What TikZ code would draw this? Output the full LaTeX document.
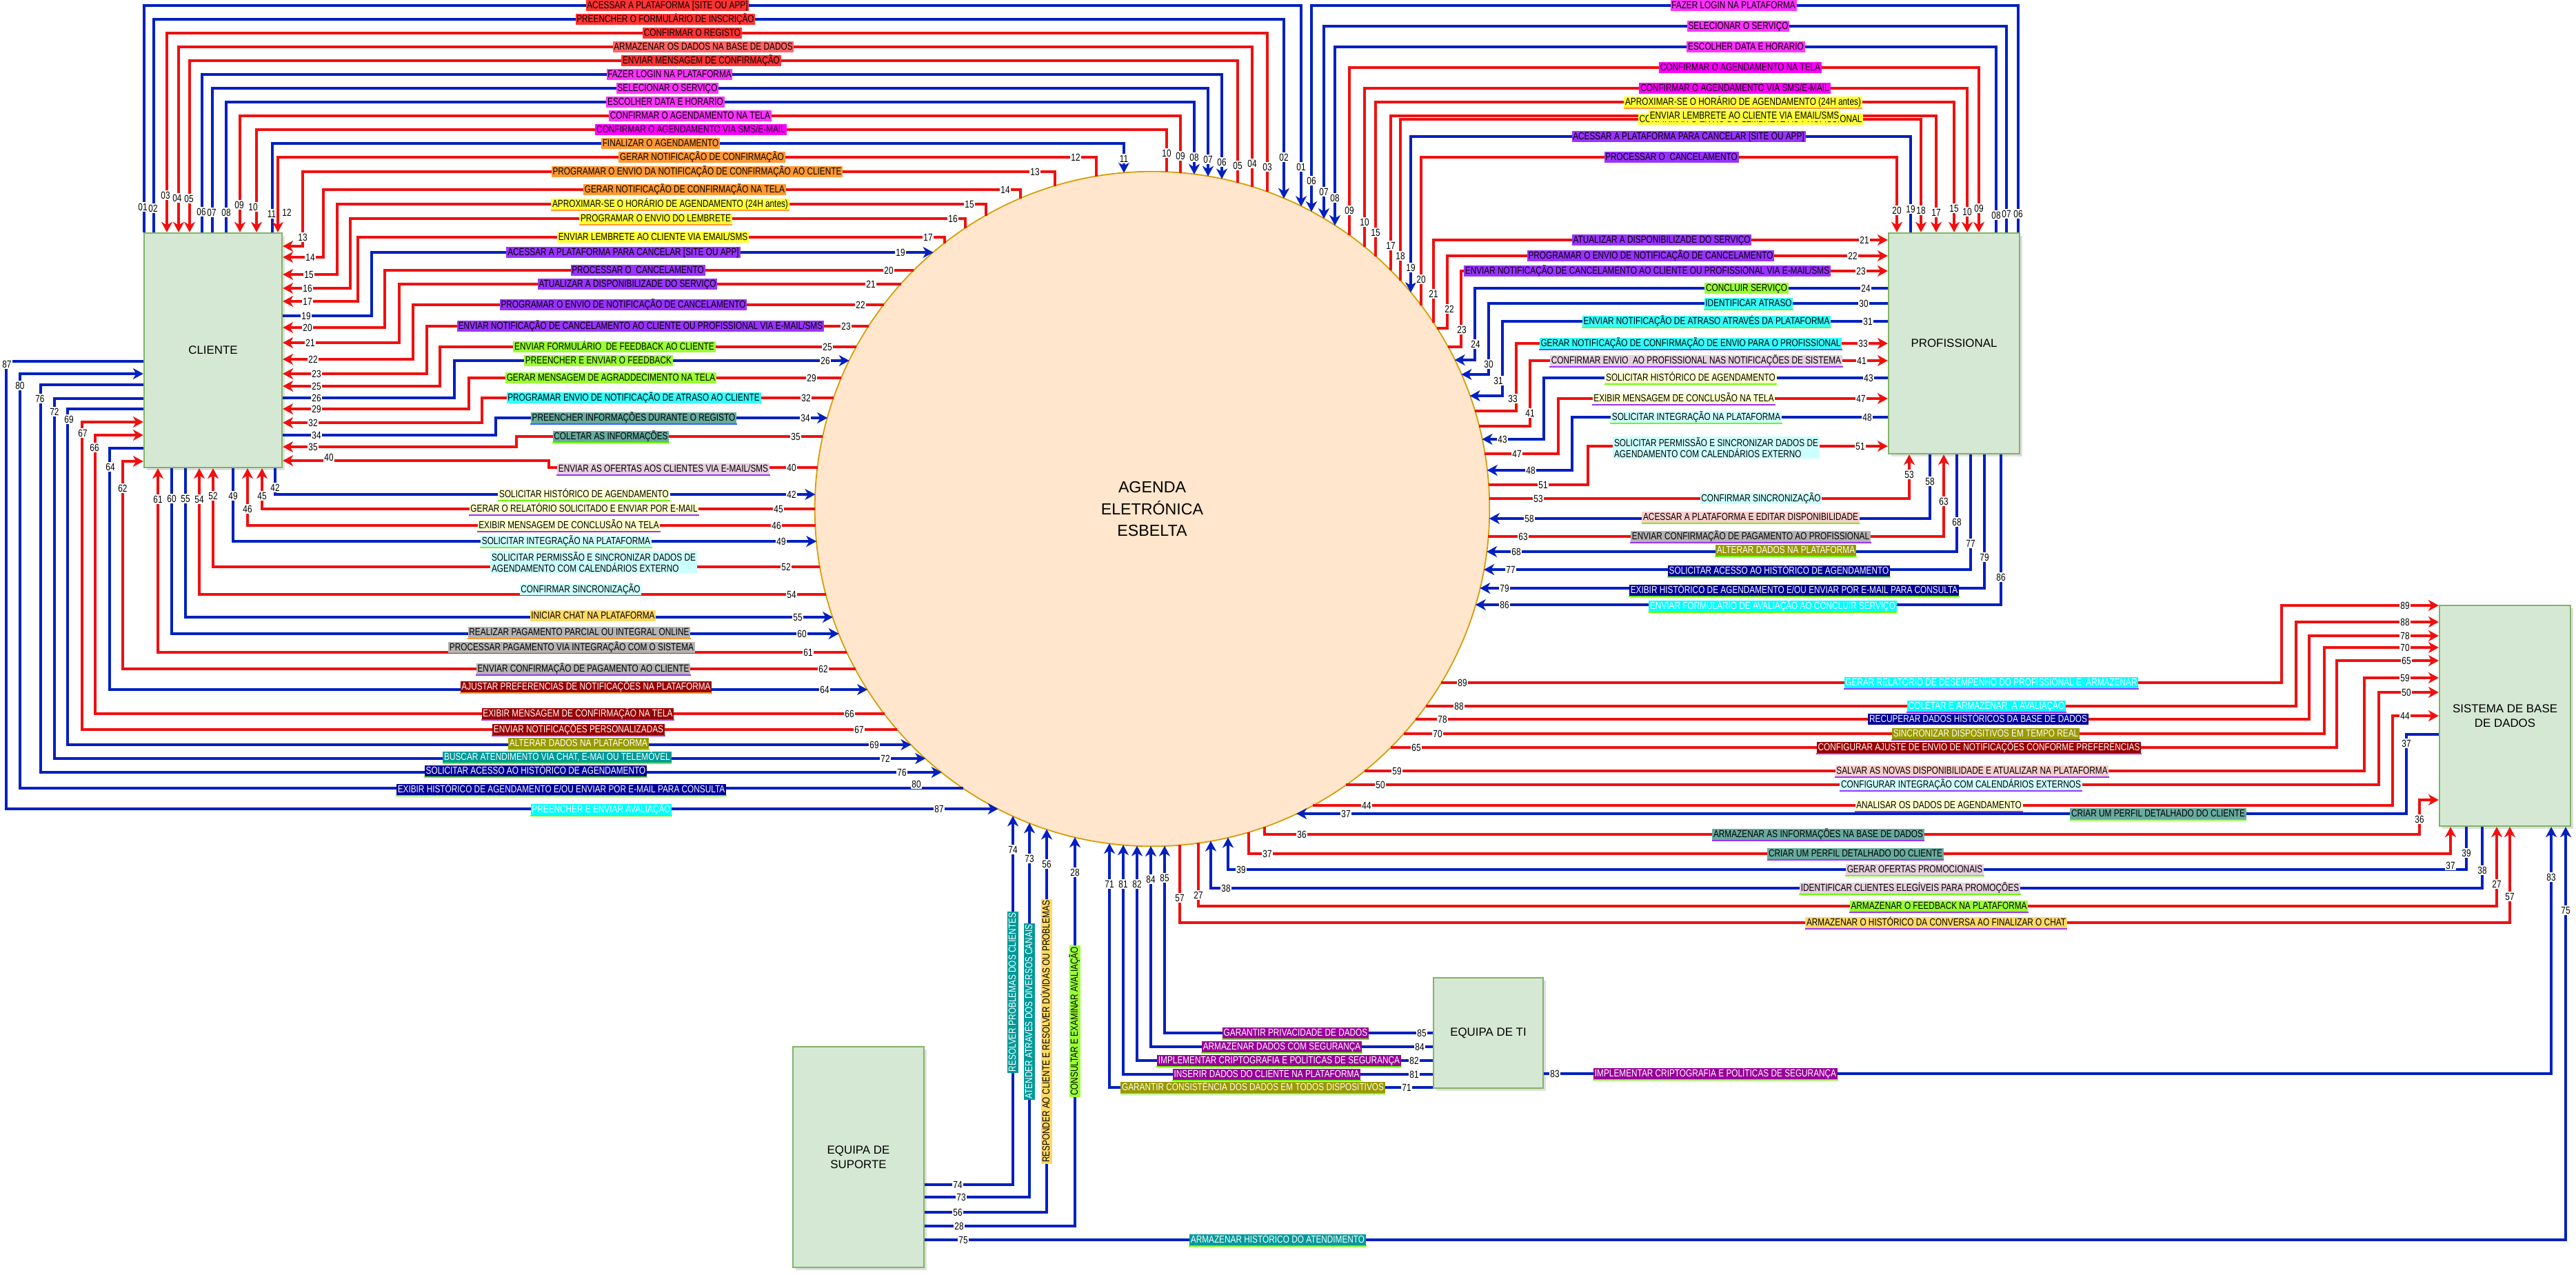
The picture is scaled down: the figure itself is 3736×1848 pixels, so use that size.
\documentclass[tikz,border=0pt]{standalone}
\usepackage{fontspec}
\setmainfont{Liberation Sans}
\newfontfamily\narrowfont[FakeStretch=0.8]{Liberation Sans}
\usetikzlibrary{arrows.meta,shadows}

\definecolor{flowred}{HTML}{F01010}
\definecolor{flowblue}{HTML}{0020C0}
\definecolor{entfill}{HTML}{D5E8D4}
\definecolor{entline}{HTML}{82B366}
\definecolor{procfill}{HTML}{FFE6CC}
\definecolor{procline}{HTML}{D79B00}
\definecolor{cRed}{HTML}{FF3333}
\definecolor{cRose}{HTML}{FF6666}
\definecolor{cMag}{HTML}{FF33FF}
\definecolor{cMagB}{HTML}{FF00FF}
\definecolor{cOra}{HTML}{FF9933}
\definecolor{cYel}{HTML}{FFFF33}
\definecolor{cPur}{HTML}{9933FF}
\definecolor{cGrn}{HTML}{99FF33}
\definecolor{cCya}{HTML}{33FFFF}
\definecolor{cTea}{HTML}{67AB9F}
\definecolor{cPnk}{HTML}{E6D0DE}
\definecolor{cLYe}{HTML}{FFFFCC}
\definecolor{cLCy}{HTML}{CCFFFF}
\definecolor{cGold}{HTML}{FFD966}
\definecolor{cGry}{HTML}{B3B3B3}
\definecolor{cDRed}{HTML}{990000}
\definecolor{cOli}{HTML}{999900}
\definecolor{cDTea}{HTML}{009999}
\definecolor{cNavy}{HTML}{000099}
\definecolor{cAqua}{HTML}{00FFFF}
\definecolor{cDPur}{HTML}{990099}
\definecolor{cSal}{HTML}{F8CECC}
\definecolor{uGrn}{HTML}{66FF00}
\definecolor{uPur}{HTML}{9933FF}
\definecolor{uOra}{HTML}{FF9933}
\definecolor{uBlu}{HTML}{3366FF}

% border points of the process circle (centre 1671,738, radius 489)
\newcommand\yT[1]{738-100*sqrt(23.912-((#1-1671)/100)^2)}
\newcommand\yB[1]{738+100*sqrt(23.912-((#1-1671)/100)^2)}
\newcommand\xL[1]{1671-100*sqrt(23.912-((#1-738)/100)^2)}
\newcommand\xR[1]{1671+100*sqrt(23.912-((#1-738)/100)^2)}
\newcommand\tg[3]{\node[num] (tg#3x#1) at (#1,#2) {#3};}

\tikzset{
  ent/.style={draw=entline, fill=entfill, line width=0.6pt, align=center,
    font=\fontsize{4.8}{5.8}\selectfont,
    drop shadow={opacity=0.25, shadow xshift=1.2pt, shadow yshift=-1.2pt}},
  proc/.style={circle, draw=procline, fill=procfill, line width=0.5pt,
    align=center, font=\fontsize{6.6}{9}\selectfont},
  tip/.style={-{Stealth[length=1.5mm,width=1.6mm,inset=0.45mm]}},
  rf/.style={draw=flowred, line width=0.9pt, tip},
  bf/.style={draw=flowblue, line width=0.9pt, tip},
  lab/.style={fill=#1, font=\narrowfont\fontsize{4.2}{4.8}\selectfont,
    inner xsep=0.5pt, inner ysep=0.4pt, text height=3.1pt, text depth=0.8pt},
  labw/.style={lab=#1, text=white},
  labii/.style={fill=#1, font=\narrowfont\fontsize{4.2}{4.4}\selectfont,
    align=left, inner sep=0.6pt},
  ul/.style={append after command={(\tikzlastnode.south west)
    edge[draw=#1, line width=0.6pt] (\tikzlastnode.south east)}},
  num/.style={fill=white, font=\narrowfont\fontsize{4.2}{4.8}\selectfont,
    inner sep=0.3pt, text height=3.1pt, text depth=0.2pt},
}

\begin{document}
\begin{tikzpicture}[x=0.01cm,y=-0.01cm]
\useasboundingbox (0,0) rectangle (3736,1848);

% entities and process
\node[proc, minimum size=9.78cm] (ag) at (1671,738) {AGENDA\\ELETRÓNICA\\ESBELTA};
\node[ent, minimum width=2cm, minimum height=3.4cm] (cli) at (309,508) {CLIENTE};
\node[ent, minimum width=1.9cm, minimum height=3.2cm] (prof) at (2834,498) {PROFISSIONAL};
\node[ent, minimum width=1.9cm, minimum height=3.2cm] (bd) at (3633,1038) {SISTEMA DE BASE\\DE DADOS};
\node[ent, minimum width=1.59cm, minimum height=1.6cm] (ti) at (2158.5,1498) {EQUIPA DE TI};
\node[ent, minimum width=1.9cm, minimum height=3.2cm] (sup) at (1245,1678) {EQUIPA DE\\SUPORTE};

% cliente - top
\draw[bf] (cli.north -| 209,0) |- (1887,8) -- (1887,{\yT{1887}});
\draw[bf] (cli.north -| 223,0) |- (1862,28) -- (1862,{\yT{1862}});
\draw[rf] (1838,{\yT{1838}}) |- (242,48) -- (cli.north -| 242,0);
\draw[rf] (1816,{\yT{1816}}) |- (259,68) -- (cli.north -| 259,0);
\draw[rf] (1795,{\yT{1795}}) |- (275,88) -- (cli.north -| 275,0);
\draw[bf] (cli.north -| 293,0) |- (1772,108) -- (1772,{\yT{1772}});
\draw[bf] (cli.north -| 308,0) |- (1752,128) -- (1752,{\yT{1752}});
\draw[bf] (cli.north -| 328,0) |- (1732,148) -- (1732,{\yT{1732}});
\draw[rf] (1712,{\yT{1712}}) |- (348,168) -- (cli.north -| 348,0);
\draw[rf] (1692,{\yT{1692}}) |- (372,188) -- (cli.north -| 372,0);
\draw[bf] (cli.north -| 395,0) |- (1630,208) -- (1630,{\yT{1630}});
\draw[rf] (1590,{\yT{1590}}) |- (403,228) -- (cli.north -| 403,0);

% cliente - right side
\draw[rf] (1530,{\yT{1530}}) |- (439,249) |- (cli.east |- 0,357);
\draw[rf] (1480,{\yT{1480}}) |- (469,275) |- (cli.east |- 0,373);
\draw[rf] (1430,{\yT{1430}}) |- (489,296) |- (cli.east |- 0,398);
\draw[rf] (1400,{\yT{1400}}) |- (508,317) |- (cli.east |- 0,418);
\draw[rf] (1370,{\yT{1370}}) |- (519,344) |- (cli.east |- 0,437);
\draw[bf] (cli.east |- 0,458) -| (539,366) -- ({\xL{366}},366);
\draw[rf] ({\xL{392}},392) -| (558,475) -- (cli.east |- 0,475);
\draw[rf] ({\xL{412}},412) -| (579,497) -- (cli.east |- 0,497);
\draw[rf] ({\xL{442}},442) -| (599,521) -- (cli.east |- 0,521);
\draw[rf] ({\xL{473}},473) -| (619,542) -- (cli.east |- 0,542);
\draw[rf] ({\xL{503}},503) -| (638,560) -- (cli.east |- 0,560);
\draw[bf] (cli.east |- 0,577) -| (659,523) -- ({\xL{523}},523);
\draw[rf] ({\xL{548}},548) -| (680,593) -- (cli.east |- 0,593);
\draw[rf] ({\xL{577}},577) -| (699,613) -- (cli.east |- 0,613);
\draw[bf] (cli.east |- 0,631) -| (719,606) -- ({\xL{606}},606);
\draw[rf] ({\xL{633}},633) -| (749,648) -- (cli.east |- 0,648);
\draw[rf] ({\xL{678}},678) -| (796,668) -- (cli.east |- 0,668);

% cliente - bottom
\draw[bf] (cli.south -| 399,0) |- ({\xL{717}},717);
\draw[rf] ({\xL{738}},738) -| (cli.south -| 380,0);
\draw[rf] ({\xL{762}},762) -| (cli.south -| 359,0);
\draw[bf] (cli.south -| 338,0) |- ({\xL{785}},785);
\draw[rf] ({\xL{822}},822) -| (cli.south -| 309,0);
\draw[rf] ({\xL{862}},862) -| (cli.south -| 289,0);
\draw[bf] (cli.south -| 269,0) |- ({\xL{895}},895);
\draw[bf] (cli.south -| 249,0) |- ({\xL{919}},919);
\draw[rf] ({\xL{946}},946) -| (cli.south -| 229,0);

% cliente - left side
\draw[bf] (cli.west |- 0,524) -| (9,1173) -- ({\xL{1173}},1173);
\draw[bf] ({\xL{1143}},1143) -| (29,542) -- (cli.west |- 0,542);
\draw[bf] (cli.west |- 0,558) -| (59,1120) -- ({\xL{1120}},1120);
\draw[bf] (cli.west |- 0,578) -| (79,1100) -- ({\xL{1100}},1100);
\draw[bf] (cli.west |- 0,593) -| (98,1080) -- ({\xL{1080}},1080);
\draw[rf] ({\xL{1058}},1058) -| (119,612) -- (cli.west |- 0,612);
\draw[rf] ({\xL{1035}},1035) -| (138,631) -- (cli.west |- 0,631);
\draw[bf] (cli.west |- 0,650) -| (159,1000) -- ({\xL{1000}},1000);
\draw[rf] ({\xL{970}},970) -| (178,669) -- (cli.west |- 0,669);

% profissional - top
\draw[bf] (prof.north -| 2927,0) |- (1902,8) -- (1902,{\yT{1902}});
\draw[bf] (prof.north -| 2910,0) |- (1920,38) -- (1920,{\yT{1920}});
\draw[bf] (prof.north -| 2895,0) |- (1936,68) -- (1936,{\yT{1936}});
\draw[rf] (1957,{\yT{1957}}) |- (2870,98) -- (prof.north -| 2870,0);
\draw[rf] (1979,{\yT{1979}}) |- (2853,128) -- (prof.north -| 2853,0);
\draw[rf] (1995,{\yT{1995}}) |- (2834,148) -- (prof.north -| 2834,0);
\draw[rf] (2017,{\yT{2017}}) |- (2808,168) -- (prof.north -| 2808,0);
\draw[rf] (2031,{\yT{2031}}) |- (2786,173) -- (prof.north -| 2786,0);
\draw[bf] (prof.north -| 2771,0) |- (2046,198) -- (2046,{\yT{2046}});
\draw[rf] (2061,{\yT{2061}}) |- (2751,228) -- (prof.north -| 2751,0);

% profissional - left side
\draw[rf] (2079,{\yT{2079}}) |- (prof.west |- 0,348);
\draw[rf] ({\xR{476}},476) -| (2099,371) -- (prof.west |- 0,371);
\draw[rf] ({\xR{503}},503) -| (2119,393) -- (prof.west |- 0,393);
\draw[bf] (prof.west |- 0,418) -| (2139,522) -- ({\xR{522}},522);
\draw[bf] (prof.west |- 0,440) -| (2159,543) -- ({\xR{543}},543);
\draw[bf] (prof.west |- 0,466) -| (2179,574) -- ({\xR{574}},574);
\draw[rf] ({\xR{596}},596) -| (2199,498) -- (prof.west |- 0,498);
\draw[rf] ({\xR{618}},618) -| (2219,523) -- (prof.west |- 0,523);
\draw[bf] (prof.west |- 0,548) -| (2239,637) -- ({\xR{637}},637);
\draw[rf] ({\xR{658}},658) -| (2260,578) -- (prof.west |- 0,578);
\draw[bf] (prof.west |- 0,605) -| (2280,682) -- ({\xR{682}},682);
\draw[rf] ({\xR{703}},703) -| (2303,647) -- (prof.west |- 0,647);

% profissional - bottom
\draw[rf] ({\xR{723}},723) -| (prof.south -| 2769,0);
\draw[bf] (prof.south -| 2799,0) |- ({\xR{752}},752);
\draw[rf] ({\xR{778}},778) -| (prof.south -| 2819,0);
\draw[bf] (prof.south -| 2838,0) |- ({\xR{800}},800);
\draw[bf] (prof.south -| 2858,0) |- ({\xR{826}},826);
\draw[bf] (prof.south -| 2878,0) |- ({\xR{853}},853);
\draw[bf] (prof.south -| 2902,0) |- ({\xR{877}},877);

% base de dados
\draw[rf] ({\xR{990}},990) -| (3309,878) -- (bd.west |- 0,878);
\draw[rf] ({\xR{1024}},1024) -| (3330,902) -- (bd.west |- 0,902);
\draw[rf] ({\xR{1043}},1043) -| (3349,922) -- (bd.west |- 0,922);
\draw[rf] ({\xR{1064}},1064) -| (3371,939) -- (bd.west |- 0,939);
\draw[rf] ({\xR{1084}},1084) -| (3389,958) -- (bd.west |- 0,958);
\draw[rf] ({\xR{1118}},1118) -| (3429,983) -- (bd.west |- 0,983);
\draw[rf] ({\xR{1138}},1138) -| (3450,1004) -- (bd.west |- 0,1004);
\draw[rf] ({\xR{1168}},1168) -| (3470,1038) -- (bd.west |- 0,1038);
\draw[bf] (bd.west |- 0,1065) -| (3490,1180) -- ({\xR{1180}},1180);
\draw[rf] (1834,{\yB{1834}}) |- (3509,1210) |- (bd.west |- 0,1160);
\draw[rf] (1811,{\yB{1811}}) |- (3554,1238) -- (bd.south -| 3554,0);
\draw[bf] (bd.south -| 3577,0) |- (1781,1261) -- (1781,{\yB{1781}});
\draw[bf] (bd.south -| 3600,0) |- (1756,1288) -- (1756,{\yB{1756}});
\draw[rf] (1738,{\yB{1738}}) |- (3621,1314) -- (bd.south -| 3621,0);
\draw[rf] (1711,{\yB{1711}}) |- (3640,1338) -- (bd.south -| 3640,0);
\draw[bf] (ti.east |- 0,1557) -| (bd.south -| 3700,0);
\draw[bf] (sup.east |- 0,1798) -| (bd.south -| 3721,0);

% equipa de ti
\draw[bf] (ti.west |- 0,1498) -| (1689,{\yB{1689}});
\draw[bf] (ti.west |- 0,1518) -| (1669,{\yB{1669}});
\draw[bf] (ti.west |- 0,1538) -| (1649,{\yB{1649}});
\draw[bf] (ti.west |- 0,1558) -| (1629,{\yB{1629}});
\draw[bf] (ti.west |- 0,1577) -| (1609,{\yB{1609}});

% equipa de suporte
\draw[bf] (sup.east |- 0,1718) -| (1469,{\yB{1469}});
\draw[bf] (sup.east |- 0,1736) -| (1493,{\yB{1493}});
\draw[bf] (sup.east |- 0,1758) -| (1518,{\yB{1518}});
\draw[bf] (sup.east |- 0,1778) -| (1559,{\yB{1559}});

% flow labels - cliente
\node[lab=cRed] (l01c) at (968,8) {ACESSAR A PLATAFORMA [SITE OU APP]};
\node[lab=cRed] (l02c) at (965,28) {PREENCHER O FORMULÁRIO DE INSCRIÇÃO};
\node[lab=cRed] (l03c) at (1004,48) {CONFIRMAR O REGISTO};
\node[lab=cRose] (l04c) at (1020,68) {ARMAZENAR OS DADOS NA BASE DE DADOS};
\node[lab=cRed] (l05c) at (1017,88) {ENVIAR MENSAGEM DE CONFIRMAÇÃO};
\node[lab=cMag] (l06c) at (971,108) {FAZER LOGIN NA PLATAFORMA};
\node[lab=cMag] (l07c) at (968,128) {SELECIONAR O SERVIÇO};
\node[lab=cMag] (l08c) at (965,148) {ESCOLHER DATA E HORARIO};
\node[lab=cMag] (l09c) at (1001,168) {CONFIRMAR O AGENDAMENTO NA TELA};
\node[lab=cMagB] (l10c) at (1002,188) {CONFIRMAR O AGENDAMENTO VIA SMS/E-MAIL};
\node[lab=cOra] (l11c) at (958,208) {FINALIZAR O AGENDAMENTO};
\node[lab=cOra] (l12c) at (1018,228) {GERAR NOTIFICAÇÃO DE CONFIRMAÇÃO};
\node[lab=cOra] (l13c) at (1011,249) {PROGRAMAR O ENVIO DA NOTIFICAÇÃO DE CONFIRMAÇÃO AO CLIENTE};
\node[lab=cOra] (l14c) at (993,275) {GERAR NOTIFICAÇÃO DE CONFIRMAÇÃO NA TELA};
\node[lab=cYel, ul=uOra] (l15c) at (972,296) {APROXIMAR-SE O HORÁRIO DE AGENDAMENTO (24H antes)};
\node[lab=cYel, ul=uOra] (l16c) at (951,317) {PROGRAMAR O ENVIO DO LEMBRETE};
\node[lab=cYel] (l17c) at (947,344) {ENVIAR LEMBRETE AO CLIENTE VIA EMAIL/SMS};
\node[lab=cPur] (l19c) at (904,366) {ACESSAR A PLATAFORMA PARA CANCELAR [SITE OU APP]};
\node[lab=cPur] (l20c) at (925,392) {PROCESSAR O \ CANCELAMENTO};
\node[lab=cPur] (l21c) at (910,412) {ATUALIZAR A DISPONIBILIZADE DO SERVIÇO};
\node[lab=cPur] (l22c) at (904,442) {PROGRAMAR O ENVIO DE NOTIFICAÇÃO DE CANCELAMENTO};
\node[lab=cPur] (l23c) at (929,473) {ENVIAR NOTIFICAÇÃO DE CANCELAMENTO AO CLIENTE OU PROFISSIONAL VIA E-MAIL/SMS};
\node[lab=cGrn] (l25c) at (891,503) {ENVIAR FORMULÁRIO \ DE FEEDBACK AO CLIENTE};
\node[lab=cGrn] (l26c) at (868,523) {PREENCHER E ENVIAR O FEEDBACK};
\node[lab=cGrn] (l29c) at (886,548) {GERAR MENSAGEM DE AGRADDECIMENTO NA TELA};
\node[lab=cCya] (l32c) at (919,577) {PROGRAMAR ENVIO DE NOTIFICAÇÃO DE ATRASO AO CLIENTE};
\node[lab=cTea, ul=uBlu] (l34c) at (919,606) {PREENCHER INFORMAÇÕES DURANTE O REGISTO};
\node[lab=cTea, ul=uGrn] (l35c) at (886,633) {COLETAR AS INFORMAÇÕES};
\node[lab=cPnk, ul=uPur] (l40c) at (962,680) {ENVIAR AS OFERTAS AOS CLIENTES VIA E-MAIL/SMS};
\node[lab=cLYe, ul=uGrn] (l42c) at (847,717) {SOLICITAR HISTÓRICO DE AGENDAMENTO};
\node[lab=cLYe, ul=uPur] (l45c) at (847,738) {GERAR O RELATÓRIO SOLICITADO E ENVIAR POR E-MAIL};
\node[lab=cLYe, ul=uPur] (l46c) at (825,762) {EXIBIR MENSAGEM DE CONCLUSÃO NA TELA};
\node[lab=cLCy, ul=uGrn] (l49c) at (821,785) {SOLICITAR INTEGRAÇÃO NA PLATAFORMA};
\node[labii=cLCy] (l52c) at (861,815) {SOLICITAR PERMISSÃO E SINCRONIZAR DADOS DE\\AGENDAMENTO COM CALENDÁRIOS EXTERNO};
\node[lab=cLCy] (l54c) at (842,855) {CONFIRMAR SINCRONIZAÇÃO};
\node[lab=cGold] (l55c) at (860,893) {INICIAR CHAT NA PLATAFORMA};
\node[lab=cGry, ul=uOra] (l60c) at (840,917) {REALIZAR PAGAMENTO PARCIAL OU INTEGRAL ONLINE};
\node[lab=cGry] (l61c) at (829,939) {PROCESSAR PAGAMENTO VIA INTEGRAÇÃO COM O SISTEMA};
\node[lab=cGry, ul=uPur] (l62c) at (846,970) {ENVIAR CONFIRMAÇÃO DE PAGAMENTO AO CLIENTE};
\node[labw=cDRed, ul=uOra] (l64c) at (850,996) {AJUSTAR PREFERENCIAS DE NOTIFICAÇÕES NA PLATAFORMA};
\node[labw=cDRed, ul=uPur] (l66c) at (838,1035) {EXIBIR MENSAGEM DE CONFIRMAÇÃO NA TELA};
\node[labw=cDRed, ul=uPur] (l67c) at (839,1058) {ENVIAR NOTIFICAÇÕES PERSONALIZADAS};
\node[labw=cOli, ul=uGrn] (l69c) at (839,1078) {ALTERAR DADOS NA PLATAFORMA};
\node[labw=cDTea, ul=uGrn] (l72c) at (808,1098) {BUSCAR ATENDIMENTO VIA CHAT, E-MAI OU TELEMÓVEL};
\node[labw=cNavy, ul=uGrn] (l76c) at (777,1118) {SOLICITAR ACESSO AO HISTÓRICO DE AGENDAMENTO};
\node[labw=cNavy, ul=uGrn] (l80c) at (814,1145) {EXIBIR HISTÓRICO DE AGENDAMENTO E/OU ENVIAR POR E-MAIL PARA CONSULTA};
\node[labw=cAqua, ul=uGrn] (l87c) at (872,1174) {PREENCHER E ENVIAR AVALIAÇÃO};

% flow labels - profissional
\node[lab=cMag] (l06p) at (2514,8) {FAZER LOGIN NA PLATAFORMA};
\node[lab=cMag] (l07p) at (2521,38) {SELECIONAR O SERVIÇO};
\node[lab=cMag] (l08p) at (2532,68) {ESCOLHER DATA E HORARIO};
\node[lab=cMagB] (l09p) at (2524,98) {CONFIRMAR O AGENDAMENTO NA TELA};
\node[lab=cMagB] (l10p) at (2516,128) {CONFIRMAR O AGENDAMENTO VIA SMS/E-MAIL};
\node[lab=cYel, ul=uOra] (l15p) at (2528,148) {APROXIMAR-SE O HORÁRIO DE AGENDAMENTO (24H antes)};
\node[lab=cYel] (l18p) at (2539,173) {CONFIRMAR O ENVIO DO LEMBRETE AO PROFISSIONAL};
\node[lab=cYel] (l17p) at (2530,168) {ENVIAR LEMBRETE AO CLIENTE VIA EMAIL/SMS};
\node[lab=cPur] (l19p) at (2449,198) {ACESSAR A PLATAFORMA PARA CANCELAR [SITE OU APP]};
\node[lab=cPur] (l20p) at (2424,228) {PROCESSAR O \ CANCELAMENTO};
\node[lab=cPur] (l21p) at (2410,348) {ATUALIZAR A DISPONIBILIZADE DO SERVIÇO};
\node[lab=cPur] (l22p) at (2394,371) {PROGRAMAR O ENVIO DE NOTIFICAÇÃO DE CANCELAMENTO};
\node[lab=cPur] (l23p) at (2389,393) {ENVIAR NOTIFICAÇÃO DE CANCELAMENTO AO CLIENTE OU PROFISSIONAL VIA E-MAIL/SMS};
\node[lab=cGrn] (l24p) at (2533,418) {CONCLUIR SERVIÇO};
\node[lab=cCya, ul=uGrn] (l30p) at (2536,440) {IDENTIFICAR ATRASO};
\node[lab=cCya, ul=uGrn] (l31p) at (2475,466) {ENVIAR NOTIFICAÇÃO DE ATRASO ATRAVÉS DA PLATAFORMA};
\node[lab=cCya, ul=uPur] (l33p) at (2452,498) {GERAR NOTIFICAÇÃO DE CONFIRMAÇÃO DE ENVIO PARA O PROFISSIONAL};
\node[lab=cPnk, ul=uPur] (l41p) at (2460,523) {CONFIRMAR ENVIO \ AO PROFISSIONAL NAS NOTIFICAÇÕES DE SISTEMA};
\node[lab=cLYe, ul=uGrn] (l43p) at (2452,548) {SOLICITAR HISTÓRICO DE AGENDAMENTO};
\node[lab=cLYe, ul=uPur] (l47p) at (2442,578) {EXIBIR MENSAGEM DE CONCLUSÃO NA TELA};
\node[lab=cLCy, ul=uGrn] (l48p) at (2460,605) {SOLICITAR INTEGRAÇÃO NA PLATAFORMA};
\node[labii=cLCy] (l51p) at (2489,649) {SOLICITAR PERMISSÃO E SINCRONIZAR DADOS DE\\AGENDAMENTO COM CALENDÁRIOS EXTERNO};
\node[lab=cLCy] (l53p) at (2554,723) {CONFIRMAR SINCRONIZAÇÃO};
\node[lab=cSal, ul=uGrn] (l58p) at (2539,750) {ACESSAR A PLATAFORMA E EDITAR DISPONIBILIDADE};
\node[lab=cGry, ul=uPur] (l63p) at (2539,778) {ENVIAR CONFIRMAÇÃO DE PAGAMENTO AO PROFISSIONAL};
\node[labw=cOli, ul=uGrn] (l68p) at (2590,798) {ALTERAR DADOS NA PLATAFORMA};
\node[labw=cNavy, ul=uGrn] (l77p) at (2580,828) {SOLICITAR ACESSO AO HISTÓRICO DE AGENDAMENTO};
\node[labw=cNavy, ul=uGrn] (l79p) at (2602,856) {EXIBIR HISTÓRICO DE AGENDAMENTO E/OU ENVIAR POR E-MAIL PARA CONSULTA};
\node[labw=cAqua, ul=uGrn] (l86p) at (2571,879) {ENVIAR FORMULÁRIO DE AVALIAÇÃO AO CONCLUIR SERVIÇO};

% flow labels - base de dados
\node[labw=cAqua, ul=uPur] (l89b) at (2888,990) {GERAR RELATÓRIO DE DESEMPENHO DO PROFISSIONAL E \ ARMAZENAR};
\node[labw=cAqua, ul=uPur] (l88b) at (2881,1024) {COLETAR E ARMAZENAR \ A AVALIAÇÃO};
\node[labw=cNavy] (l78b) at (2869,1043) {RECUPERAR DADOS HISTÓRICOS DA BASE DE DADOS};
\node[labw=cOli, ul=uPur] (l70b) at (2880,1064) {SINCRONIZAR DISPOSITIVOS EM TEMPO REAL};
\node[labw=cDRed, ul=uPur] (l65b) at (2870,1084) {CONFIGURAR AJUSTE DE ENVIO DE NOTIFICAÇÕES CONFORME PREFERÊNCIAS};
\node[lab=cSal, ul=uPur] (l59b) at (2860,1118) {SALVAR AS NOVAS DISPONIBILIDADE E ATUALIZAR NA PLATAFORMA};
\node[lab=cLCy, ul=uPur] (l50b) at (2844,1138) {CONFIGURAR INTEGRAÇÃO COM CALENDÁRIOS EXTERNOS};
\node[lab=cLYe, ul=uPur] (l44b) at (2812,1168) {ANALISAR OS DADOS DE AGENDAMENTO};
\node[lab=cTea, ul=uGrn] (l37bb) at (3130,1180) {CRIAR UM PERFIL DETALHADO DO CLIENTE};
\node[lab=cTea, ul=uPur] (l36b) at (2637,1210) {ARMAZENAR AS INFORMAÇÕES NA BASE DE DADOS};
\node[lab=cTea, ul=uPur] (l37b) at (2691,1238) {CRIAR UM PERFIL DETALHADO DO CLIENTE};
\node[lab=cPnk, ul=uGrn] (l39b) at (2777,1261) {GERAR OFERTAS PROMOCIONAIS};
\node[lab=cPnk, ul=uGrn] (l38b) at (2770,1288) {IDENTIFICAR CLIENTES ELEGÍVEIS PARA PROMOÇÕES};
\node[lab=cGrn, ul=uPur] (l27b) at (2812,1314) {ARMAZENAR O FEEDBACK NA PLATAFORMA};
\node[lab=cGold, ul=uPur] (l57b) at (2808,1338) {ARMAZENAR O HISTÓRICO DA CONVERSA AO FINALIZAR O CHAT};
\node[labw=cDPur, ul=uGrn] (l83b) at (2488,1557) {IMPLEMENTAR CRIPTOGRAFIA E POLÍTICAS DE SEGURANÇA};
\node[labw=cDTea, ul=uGrn] (l75b) at (1853,1798) {ARMAZENAR HISTÓRICO DO ATENDIMENTO};

% flow labels - equipas
\node[labw=cDPur, ul=uGrn] (l85t) at (1879,1498) {GARANTIR PRIVACIDADE DE DADOS};
\node[labw=cDPur, ul=uGrn] (l84t) at (1859,1518) {ARMAZENAR DADOS COM SEGURANÇA};
\node[labw=cDPur, ul=uGrn] (l82t) at (1855,1538) {IMPLEMENTAR CRIPTOGRAFIA E POLÍTICAS DE SEGURANÇA};
\node[labw=cDPur, ul=uGrn] (l81t) at (1837,1558) {INSERIR DADOS DO CLIENTE NA PLATAFORMA};
\node[labw=cOli, ul=uGrn] (l71t) at (1817,1577) {GARANTIR CONSISTÊNCIA DOS DADOS EM TODOS DISPOSITIVOS};
\node[labw=cDTea, rotate=90] (l74s) at (1469,1439) {RESOLVER PROBLEMAS DOS CLIENTES};
\node[labw=cDTea, rotate=90] (l73s) at (1493,1467) {ATENDER ATRAVÉS DOS DIVERSOS CANAIS};
\node[lab=cGold, rotate=90] (l56s) at (1518,1496) {RESPONDER AO CLIENTE E RESOLVER DÚVIDAS OU PROBLEMAS};
\node[lab=cGrn, rotate=90] (l28s) at (1559,1481) {CONSULTAR E EXAMINAR AVALIAÇÃO};

% flow numbers
\tg{207}{300}{01} \tg{222}{302}{02} \tg{240}{283}{03} \tg{257}{287}{04}
\tg{274}{288}{05} \tg{292}{307}{06} \tg{307}{308}{07} \tg{328}{308}{08}
\tg{347}{297}{09} \tg{367}{300}{10} \tg{394}{310}{11} \tg{416}{308}{12}
\tg{1887}{242}{01} \tg{1862}{228}{02} \tg{1838}{242}{03} \tg{1816}{237}{04}
\tg{1795}{240}{05} \tg{1772}{235}{06} \tg{1752}{231}{07} \tg{1732}{228}{08}
\tg{1712}{226}{09} \tg{1692}{222}{10} \tg{1630}{230}{11} \tg{1560}{228}{12}
\tg{1501}{249}{13} \tg{1458}{275}{14} \tg{1406}{296}{15} \tg{1382}{317}{16} \tg{1346}{344}{17}
\tg{439}{344}{13} \tg{450}{373}{14} \tg{448}{398}{15} \tg{446}{418}{16} \tg{446}{437}{17}
\tg{444}{458}{19} \tg{446}{475}{20} \tg{450}{497}{21} \tg{454}{521}{22} \tg{459}{542}{23}
\tg{459}{560}{25} \tg{459}{577}{26} \tg{459}{593}{29} \tg{454}{613}{32} \tg{459}{631}{34}
\tg{454}{648}{35} \tg{477}{663}{40}
\tg{1306}{366}{19} \tg{1289}{392}{20} \tg{1263}{412}{21} \tg{1248}{442}{22} \tg{1227}{473}{23}
\tg{1200}{503}{25} \tg{1197}{523}{26} \tg{1177}{548}{29} \tg{1169}{577}{32} \tg{1168}{606}{34}
\tg{1154}{633}{35} \tg{1148}{678}{40}
\tg{399}{707}{42} \tg{380}{719}{45} \tg{359}{738}{46} \tg{338}{719}{49} \tg{309}{719}{52}
\tg{289}{724}{54} \tg{269}{723}{55} \tg{249}{723}{60} \tg{229}{724}{61} \tg{178}{708}{62}
\tg{1148}{717}{42} \tg{1129}{738}{45} \tg{1126}{762}{46} \tg{1133}{785}{49} \tg{1140}{822}{52}
\tg{1148}{862}{54} \tg{1157}{895}{55} \tg{1163}{919}{60} \tg{1172}{946}{61} \tg{1194}{970}{62}
\tg{1196}{1000}{64} \tg{1232}{1035}{66} \tg{1246}{1058}{67} \tg{1268}{1080}{69} \tg{1284}{1100}{72}
\tg{1308}{1120}{76} \tg{1329}{1137}{80} \tg{1362}{1173}{87}
\tg{10}{528}{87} \tg{29}{559}{80} \tg{58}{578}{76} \tg{79}{597}{72} \tg{100}{608}{69}
\tg{120}{628}{67} \tg{137}{649}{66} \tg{160}{677}{64}
\tg{2751}{305}{20} \tg{2771}{303}{19} \tg{2786}{305}{18} \tg{2808}{308}{17} \tg{2834}{302}{15}
\tg{2853}{307}{10} \tg{2870}{302}{09} \tg{2895}{312}{08} \tg{2910}{310}{07} \tg{2927}{310}{06}
\tg{1902}{262}{06} \tg{1920}{278}{07} \tg{1936}{287}{08} \tg{1957}{305}{09} \tg{1979}{322}{10}
\tg{1995}{337}{15} \tg{2017}{356}{17} \tg{2031}{371}{18} \tg{2046}{388}{19} \tg{2061}{405}{20}
\tg{2079}{426}{21} \tg{2102}{448}{22} \tg{2120}{478}{23} \tg{2140}{499}{24} \tg{2159}{528}{30}
\tg{2173}{552}{31} \tg{2194}{578}{33} \tg{2219}{599}{41} \tg{2179}{637}{43} \tg{2200}{658}{47}
\tg{2220}{682}{48} \tg{2238}{703}{51} \tg{2231}{723}{53} \tg{2218}{752}{58} \tg{2209}{778}{63}
\tg{2199}{800}{68} \tg{2191}{826}{77} \tg{2182}{853}{79} \tg{2182}{877}{86}
\tg{2704}{348}{21} \tg{2687}{371}{22} \tg{2699}{393}{23} \tg{2706}{418}{24} \tg{2703}{440}{30}
\tg{2709}{466}{31} \tg{2702}{498}{33} \tg{2700}{523}{41} \tg{2710}{548}{43} \tg{2699}{578}{47}
\tg{2708}{605}{48} \tg{2698}{647}{51}
\tg{2769}{688}{53} \tg{2799}{698}{58} \tg{2819}{727}{63} \tg{2838}{757}{68} \tg{2858}{788}{77}
\tg{2878}{808}{79} \tg{2902}{837}{86}
\tg{3488}{878}{89} \tg{3488}{902}{88} \tg{3488}{922}{78} \tg{3488}{939}{70} \tg{3490}{958}{65}
\tg{3488}{983}{59} \tg{3490}{1004}{50} \tg{3488}{1038}{44} \tg{3490}{1078}{37} \tg{3509}{1188}{36}
\tg{3554}{1255}{37} \tg{3577}{1237}{39} \tg{3600}{1262}{38} \tg{3621}{1282}{27} \tg{3640}{1300}{57}
\tg{3700}{1272}{83} \tg{3721}{1320}{75}
\tg{2121}{990}{89} \tg{2116}{1024}{88} \tg{2092}{1043}{78} \tg{2085}{1064}{70} \tg{2054}{1084}{65}
\tg{2026}{1118}{59} \tg{2002}{1138}{50} \tg{1982}{1168}{44} \tg{1952}{1180}{37} \tg{1888}{1210}{36}
\tg{1838}{1238}{37} \tg{1800}{1261}{39} \tg{1778}{1288}{38} \tg{1738}{1298}{27} \tg{1711}{1302}{57}
\tg{2062}{1498}{85} \tg{2059}{1518}{84} \tg{2051}{1538}{82} \tg{2051}{1558}{81} \tg{2040}{1577}{71}
\tg{2255}{1557}{83}
\tg{1689}{1273}{85} \tg{1669}{1275}{84} \tg{1649}{1282}{82} \tg{1629}{1282}{81} \tg{1609}{1282}{71}
\tg{1389}{1718}{74} \tg{1394}{1736}{73} \tg{1389}{1758}{56} \tg{1391}{1778}{28} \tg{1397}{1798}{75}
\tg{1469}{1232}{74} \tg{1493}{1245}{73} \tg{1518}{1253}{56} \tg{1559}{1265}{28}
\end{tikzpicture}
\end{document}
